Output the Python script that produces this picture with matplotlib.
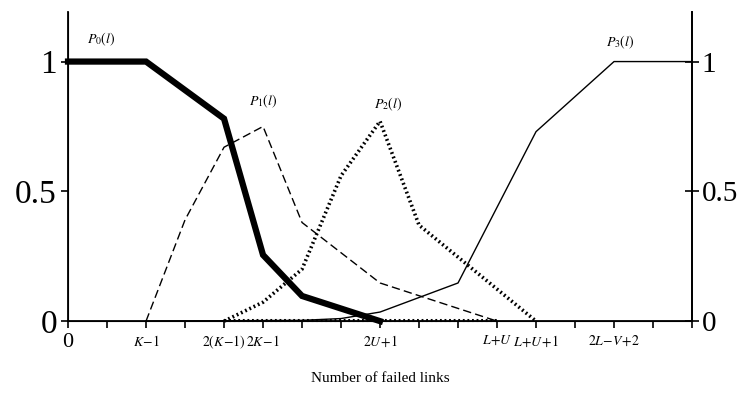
import numpy as np
import matplotlib
matplotlib.use('Agg')
import matplotlib.pyplot as plt

plt.rcParams['font.family'] = ['Liberation Serif', 'DejaVu Serif']
plt.rcParams['mathtext.fontset'] = 'stix'

# data
x_p0 = [0, 2, 4, 5, 6, 8]
y_p0 = [1.0, 1.0, 0.78, 0.255, 0.097, 0.0]

x_p1 = [2, 3, 4, 5, 6, 8, 11]
y_p1 = [0.0, 0.39, 0.67, 0.75, 0.38, 0.147, 0.0]

x_p2 = [4, 5, 6, 7, 8, 9, 12]
y_p2 = [0.0, 0.073, 0.2, 0.56, 0.77, 0.37, 0.0]

x_p2b = [4, 11]
y_p2b = [0.004, 0.004]

x_p3 = [2, 6, 7, 8, 10, 12, 14, 16]
y_p3 = [0.0, 0.003, 0.01, 0.035, 0.147, 0.73, 1.0, 1.0]

tick_pos = list(range(17))
tick_labels = {2: '$K\\!-\\!1$', 4: '$2(K\\!-\\!1)$', 5: '$2K\\!-\\!1$', 8: '$2U\\!+\\!1$',
               11: '$L\\!+\\!U$', 12: '$L\\!+\\!U\\!+\\!1$', 14: '$2L\\!-\\!V\\!+\\!2$'}

fig = plt.figure(figsize=(7.5, 3.95), dpi=100)
ax = fig.add_axes([0.0907, 0.187, 0.832, 0.782])

ax.plot(x_p3, y_p3, color='black', lw=1.0, clip_on=False)
ax.plot(x_p1, y_p1, color='black', lw=1.0, linestyle=(0, (6, 3)), clip_on=False)
ax.plot(x_p2b, y_p2b, color='black', lw=2.2, linestyle=(0, (0.6, 0.9)), clip_on=False)
ax.plot(x_p2, y_p2, color='black', lw=2.6, linestyle=(0, (0.5, 0.8)), clip_on=False)
ax.plot(x_p0, y_p0, color='black', lw=4.5, solid_joinstyle='miter', clip_on=False)

ax.set_xlim(0, 16)
ax.set_ylim(0, 1.19)
ax.spines['top'].set_visible(False)
for s in ['left', 'right', 'bottom']:
    ax.spines[s].set_linewidth(1.3)

ax.set_yticks([0, 0.5, 1])
ax.set_yticklabels(['0', '0.5', '1'], fontsize=24)
ax.tick_params(axis='y', direction='out', length=5, width=1.2, pad=3)

ax.set_xticks(tick_pos)
ax.set_xticklabels([tick_labels.get(t, '') for t in tick_pos], fontsize=10)
ax.tick_params(axis='x', direction='out', length=5, width=1.2, pad=4)
ax.text(0, -0.045, '0', fontsize=16, ha='center', va='top')

ax2 = ax.twinx()
ax2.set_ylim(0, 1.19)
ax2.set_yticks([0, 0.5, 1])
ax2.set_yticklabels(['0', '0.5', '1'], fontsize=21)
ax2.tick_params(axis='y', direction='inout', length=10, width=1.2, pad=2)
ax2.spines['top'].set_visible(False)
ax2.spines['right'].set_linewidth(1.3)

fig.text(0.507, 0.043, 'Number of failed links', fontsize=11, ha='center', va='center')

ax.text(0.85, 1.07, '$P_{0}(l)$', fontsize=10, ha='center')
ax.text(5.0, 0.83, '$P_{1}(l)$', fontsize=10, ha='center')
ax.text(8.2, 0.82, '$P_{2}(l)$', fontsize=10, ha='center')
ax.text(14.15, 1.06, '$P_{3}(l)$', fontsize=10, ha='center')

fig.savefig('out.png', dpi=100)
